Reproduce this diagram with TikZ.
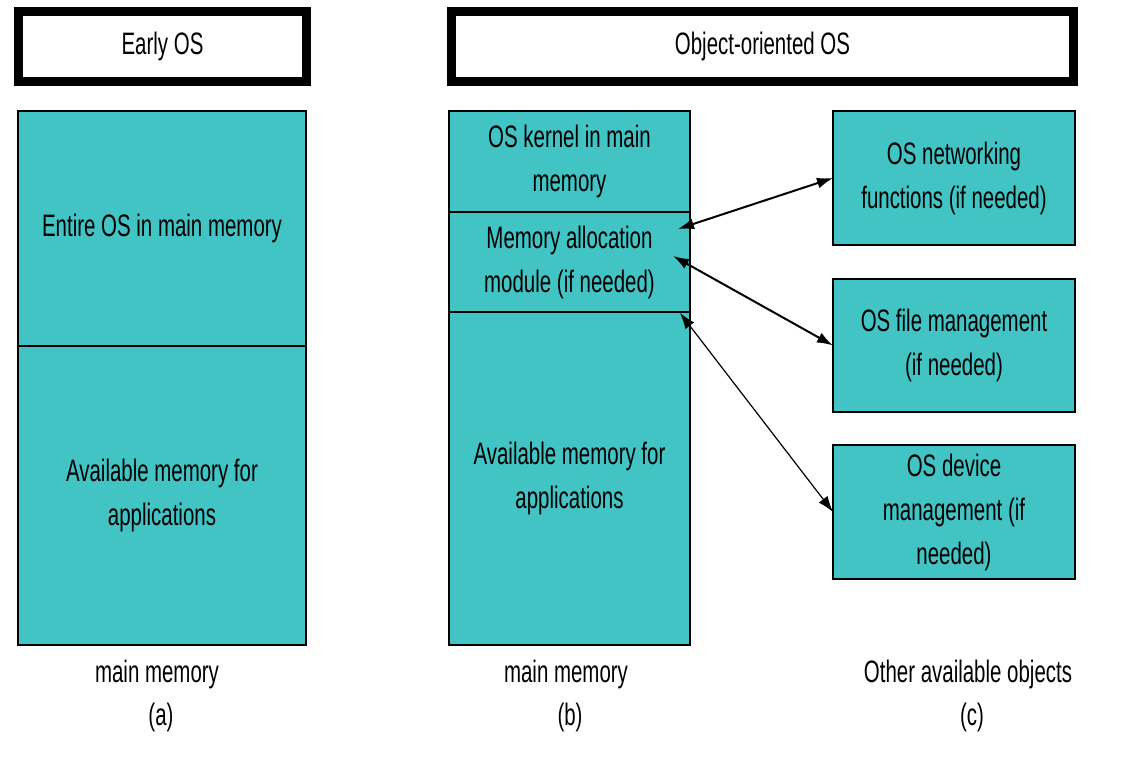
\documentclass[tikz,border=0pt]{standalone}
\usepackage{fontspec}
\setmainfont{Liberation Sans}[FakeStretch=0.66]
\usetikzlibrary{arrows.meta,positioning}
\definecolor{osteal}{RGB}{66,196,196}
\newcommand\osfont{\fontsize{31}{44}\selectfont}

\begin{document}
\begin{tikzpicture}[x=1pt,y=1pt,yscale=-1,xscale=1,
  titlebox/.style={draw=black,line width=9pt,inner sep=0pt,font=\osfont},
  membox/.style={draw=black,fill=osteal,line width=2pt,inner sep=0pt,outer sep=0pt,align=center,font=\osfont},
  lbl/.style={inner sep=0pt,font=\osfont},
  link/.style={{Latex[length=16pt,width=11pt]}-{Latex[length=16pt,width=11pt]},line width=2pt}]
\useasboundingbox (0,0) rectangle (1135,775);

%Shape: Title boxes
\node [titlebox,minimum width=288,minimum height=70] (early) at (162.5,46.5) {Early OS};
\node [titlebox,minimum width=622,minimum height=70] (oo) at (762.5,46.5) {Object-oriented OS};

%Shape: Main memory (a)
\node [membox,minimum width=288,minimum height=235] (entire) at (162,228.5) {Entire OS in main memory};
\node [membox,minimum width=288,minimum height=299,below=0pt of entire] (appa) {Available memory for\\applications};

%Shape: Main memory (b)
\node [membox,minimum width=241,minimum height=101] (kernel) at (569.5,161.5) {OS kernel in main\\memory};
\node [membox,minimum width=241,minimum height=100,below=0pt of kernel] (alloc) {Memory allocation\\module (if needed)};
\node [membox,minimum width=241,minimum height=333,below=0pt of alloc] (appb) {Available memory for\\applications};

%Shape: Other objects (c)
\node [membox,minimum width=242,minimum height=134] (net) at (954,178) {OS networking\\functions (if needed)};
\node [membox,minimum width=242,minimum height=133] (file) at (954,345.5) {OS file management\\(if needed)};
\node [membox,minimum width=242,minimum height=134] (dev) at (954,512) {OS device\\management (if\\needed)};

% Text Node
\node [lbl] (mma) at (157,674) {main memory};
\node [lbl] (capa) at (161,717) {(a)};
\node [lbl] (mmb) at (566,674) {main memory};
\node [lbl] (capb) at (570,717) {(b)};
\node [lbl] (other) at (968,674) {Other available objects};
\node [lbl] (capc) at (972,717) {(c)};

% Links
\coordinate (t1) at (678,229);
\coordinate (t2) at (673,256);
\coordinate (t3) at (680,313);
\draw [link] (t1) -- (net.west);
\draw [link] (t2) -- (file.west);
\draw [link,line width=1.2pt] (t3) -- (dev.west);

\end{tikzpicture}
\end{document}
